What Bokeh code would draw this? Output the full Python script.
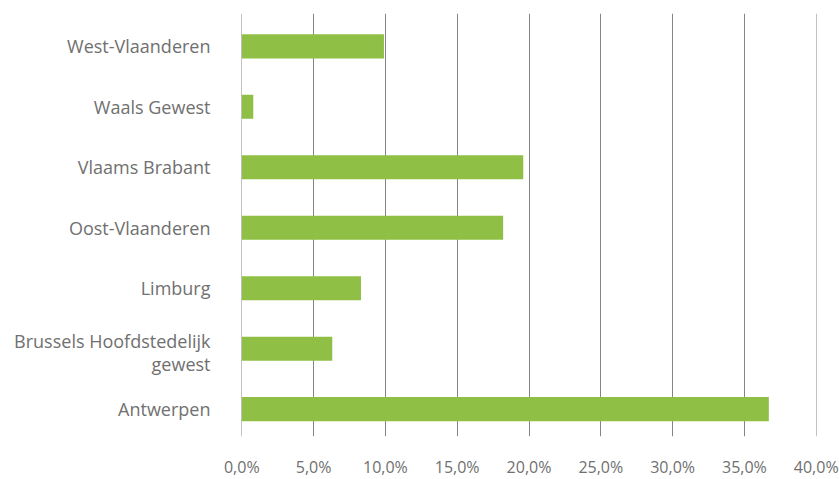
from bokeh.plotting import figure
from bokeh.models import Range1d, FixedTicker, CustomJSTickFormatter, ColumnDataSource
from bokeh.embed import file_html
from bokeh.resources import INLINE

# bottom to top
categories = ["Antwerpen", "Brussels Hoofdstedelijk gewest", "Limburg",
              "Oost-Vlaanderen", "Vlaams Brabant", "Waals Gewest", "West-Vlaanderen"]
values = [36.7, 6.3, 8.3, 18.2, 19.6, 0.8, 9.9]
x_ticks = [0, 5, 10, 15, 20, 25, 30, 35, 40]

pos = list(range(len(categories)))
src = ColumnDataSource(dict(pos=pos, val=values, cat=categories))

# y tick labels (the Brussels label wraps onto two lines)
y_ticks = []
y_overrides = {}
for i, c in enumerate(categories):
    if c == "Brussels Hoofdstedelijk gewest":
        y_ticks += [i + 0.125, i - 0.25]
        y_overrides[i + 0.125] = "Brussels Hoofdstedelijk"
        y_overrides[i - 0.25] = "gewest"
    else:
        y_ticks.append(i)
        y_overrides[i] = c

p = figure(y_range=Range1d(-0.451, 6.542),
           x_range=Range1d(-0.02, 40.02),
           frame_width=575, frame_height=423,
           min_border_left=241, min_border_right=23,
           min_border_top=13, min_border_bottom=43,
           output_backend="svg", toolbar_location=None)

p.hbar(y="pos", right="val", left=0, height=0.4, source=src,
       fill_color="#8FBF45", line_color=None)

p.outline_line_color = None
p.ygrid.grid_line_color = None
p.xgrid.ticker = FixedTicker(ticks=x_ticks)
p.xgrid.grid_line_color = "#858585"
p.xgrid.grid_line_width = 1

p.yaxis.ticker = FixedTicker(ticks=y_ticks)
p.yaxis.major_label_overrides = y_overrides
p.yaxis.major_label_standoff = 25

p.xaxis.ticker = FixedTicker(ticks=x_ticks)
p.xaxis.formatter = CustomJSTickFormatter(code="return tick.toFixed(1).replace('.', ',') + '%';")
p.xaxis.major_label_standoff = 13

for ax in (p.xaxis[0], p.yaxis[0]):
    ax.axis_line_color = None
    ax.major_tick_line_color = None
    ax.minor_tick_line_color = None
    ax.major_label_text_font = "Open Sans"
    ax.major_label_text_color = "#707070"
p.xaxis.major_label_text_font_size = "16px"
p.yaxis.major_label_text_font_size = "18px"

open("out.html", "w").write(file_html(p, INLINE))
